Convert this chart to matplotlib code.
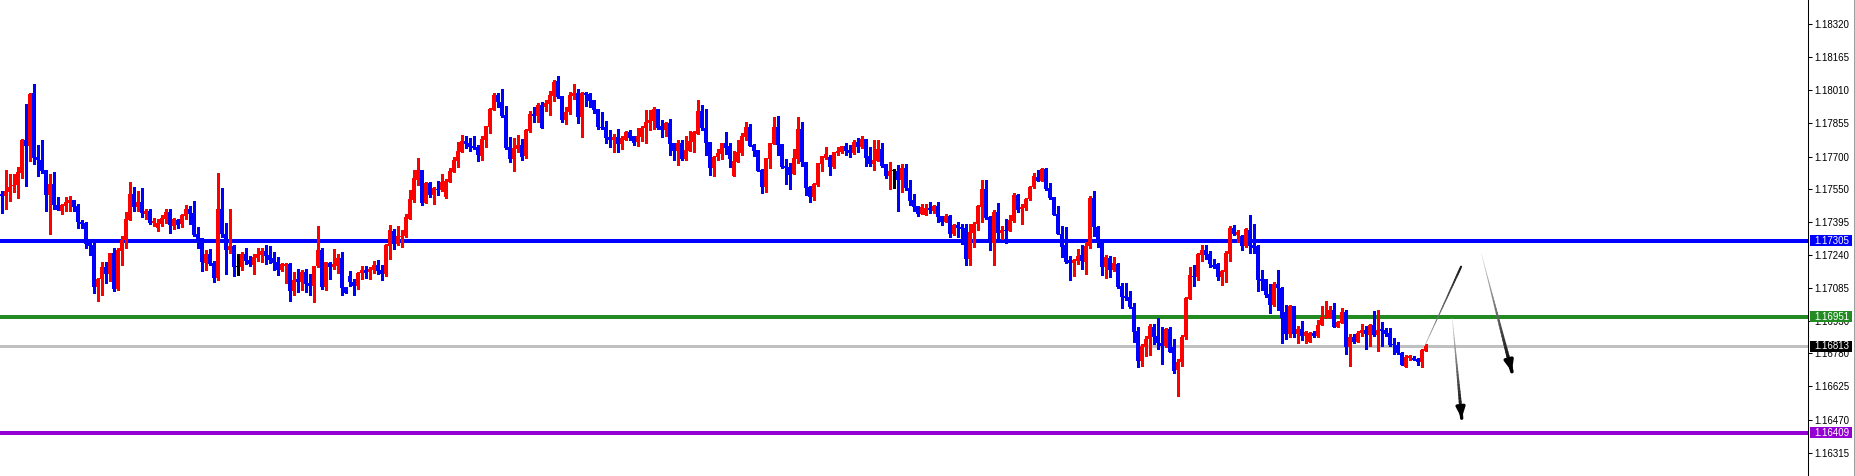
import matplotlib
matplotlib.use("Agg")
import matplotlib.pyplot as plt
import numpy as np
from matplotlib.patches import Rectangle
from matplotlib.collections import LineCollection
from matplotlib.lines import Line2D

plt.rcParams["font.family"] = ["Liberation Sans", "DejaVu Sans"]

# hourly bars, prices x 100000
opens = [
    117525, 117516, 117535, 117561, 117566, 117624, 117775, 117749, 117997, 117697,
    117686, 117636, 117521, 117571, 117471, 117446, 117469, 117483, 117496, 117469,
    117394, 117390, 117296, 117285, 117090, 117125, 117182, 117151, 117248, 117082,
    117259, 117309, 117405, 117524, 117465, 117486, 117432, 117444, 117390, 117366,
    117385, 117408, 117440, 117376, 117401, 117385, 117421, 117454, 117435, 117337,
    117318, 117203, 117243, 117201, 117132, 117454, 117340, 117263, 117281, 117185,
    117184, 117243, 117215, 117195, 117226, 117238, 117259, 117238, 117224, 117206,
    117171, 117189, 117198, 117073, 117125, 117114, 117159, 117107, 117095, 117187,
    117262, 117090, 117201, 117184, 117189, 117224, 117092, 117140, 117114, 117095,
    117153, 117168, 117159, 117171, 117195, 117168, 117151, 117282, 117351, 117293,
    117323, 117327, 117408, 117497, 117592, 117636, 117483, 117575, 117521, 117549,
    117543, 117511, 117580, 117627, 117680, 117720, 117772, 117763, 117749, 117744,
    117703, 117777, 117839, 117919, 117987, 117953, 117895, 117744, 117689, 117735,
    117753, 117702, 117820, 117901, 117891, 117939, 117933, 117944, 117984, 118054,
    117984, 117870, 117906, 117983, 117995, 117884, 117998, 117993, 117965, 117922,
    117837, 117837, 117791, 117775, 117791, 117759, 117778, 117816, 117795, 117769,
    117792, 117833, 117858, 117867, 117922, 117842, 117825, 117856, 117763, 117727,
    117763, 117688, 117727, 117766, 117806, 117912, 117833, 117767, 117647, 117697,
    117713, 117763, 117750, 117610, 117675, 117717, 117792, 117837, 117753, 117730,
    117636, 117557, 117689, 117759, 117837, 117758, 117655, 117650, 117619, 117689,
    117828, 117674, 117558, 117511, 117568, 117666, 117694, 117697, 117650, 117717,
    117720, 117749, 117730, 117716, 117767, 117744, 117780, 117702, 117666, 117680,
    117735, 117663, 117608, 117633, 117633, 117589, 117646, 117553, 117497, 117469,
    117431, 117428, 117461, 117445, 117469, 117422, 117395, 117422, 117339, 117380,
    117370, 117366, 117222, 117344, 117384, 117465, 117548, 117417, 117297, 117440,
    117342, 117356, 117353, 117400, 117520, 117453, 117461, 117501, 117557, 117604,
    117586, 117642, 117553, 117509, 117431, 117338, 117288, 117216, 117203, 117213,
    117239, 117208, 117281, 117506, 117370, 117300, 117185, 117227, 117171, 117199,
    117096, 117047, 117043, 116996, 116885, 116745, 116810, 116848, 116902, 116860,
    116827, 116813, 116894, 116810, 116703, 116740, 116855, 117033, 117142, 117138,
    117241, 117262, 117244, 117192, 117197, 117138, 117161, 117245, 117365, 117333,
    117328, 117281, 117356, 117286, 117281, 117127, 117125, 117057, 117007, 117103,
    117086, 116971, 116872, 117000, 116872, 116893, 116862, 116833, 116877, 116860,
    116910, 116946, 116947, 116982, 116904, 116922, 116971, 116810, 116855, 116832,
    116876, 116888, 116865, 116911, 116865, 116894, 116888, 116874, 116824, 116818,
    116782, 116716, 116759, 116760, 116752, 116740, 116791,
]
highs = [
    117538, 117636, 117617, 117616, 117650, 117783, 117947, 117998, 118039, 117753,
    117777, 117636, 117617, 117627, 117510, 117476, 117510, 117516, 117496, 117479,
    117404, 117393, 117301, 117299, 117132, 117207, 117207, 117251, 117271, 117273,
    117329, 117441, 117580, 117557, 117538, 117554, 117455, 117455, 117412, 117410,
    117426, 117454, 117455, 117412, 117408, 117432, 117471, 117469, 117491, 117371,
    117321, 117265, 117267, 117210, 117622, 117552, 117387, 117454, 117285, 117243,
    117254, 117270, 117235, 117245, 117271, 117270, 117284, 117281, 117252, 117231,
    117203, 117204, 117203, 117159, 117173, 117171, 117173, 117150, 117190, 117376,
    117270, 117209, 117207, 117267, 117243, 117252, 117092, 117165, 117129, 117160,
    117189, 117189, 117182, 117210, 117215, 117192, 117290, 117380, 117363, 117376,
    117355, 117429, 117544, 117635, 117692, 117639, 117582, 117580, 117557, 117585,
    117619, 117594, 117647, 117700, 117766, 117800, 117795, 117786, 117794, 117753,
    117798, 117842, 117928, 117998, 117998, 118014, 117937, 117791, 117786, 117802,
    117780, 117831, 117911, 117933, 117950, 117953, 117964, 118008, 118057, 118076,
    117984, 117930, 118001, 118039, 118015, 118001, 118001, 117998, 117965, 117922,
    117909, 117866, 117823, 117805, 117828, 117795, 117819, 117822, 117795, 117833,
    117845, 117917, 117917, 117933, 117923, 117870, 117861, 117875, 117763, 117775,
    117775, 117794, 117819, 117820, 117964, 117942, 117922, 117769, 117702, 117736,
    117763, 117814, 117761, 117725, 117777, 117808, 117861, 117852, 117758, 117730,
    117641, 117692, 117763, 117886, 117889, 117758, 117688, 117669, 117735, 117884,
    117861, 117674, 117564, 117577, 117670, 117702, 117744, 117706, 117720, 117744,
    117749, 117761, 117752, 117775, 117786, 117794, 117781, 117745, 117777, 117777,
    117761, 117663, 117674, 117642, 117660, 117664, 117665, 117590, 117525, 117469,
    117478, 117478, 117487, 117475, 117487, 117422, 117430, 117426, 117384, 117394,
    117384, 117384, 117384, 117394, 117473, 117590, 117590, 117422, 117450, 117483,
    117375, 117408, 117426, 117529, 117525, 117478, 117506, 117562, 117625, 117637,
    117646, 117646, 117576, 117511, 117469, 117377, 117370, 117234, 117220, 117269,
    117286, 117300, 117515, 117539, 117375, 117302, 117239, 117234, 117231, 117203,
    117108, 117107, 117071, 117015, 116902, 116823, 116862, 116916, 116916, 116944,
    116904, 116898, 116904, 116846, 116751, 116866, 117044, 117185, 117194, 117250,
    117286, 117284, 117258, 117220, 117200, 117170, 117258, 117376, 117381, 117356,
    117331, 117365, 117428, 117384, 117286, 117170, 117128, 117105, 117111, 117169,
    117089, 117005, 117005, 117002, 116907, 116929, 116885, 116880, 116882, 116936,
    117000, 117024, 117000, 117013, 116932, 116991, 116983, 116868, 116871, 116886,
    116919, 116908, 116915, 116977, 116982, 116925, 116899, 116897, 116852, 116833,
    116787, 116773, 116773, 116769, 116760, 116798, 116824,
]
lows = [
    117436, 117455, 117493, 117532, 117507, 117600, 117563, 117680, 117666, 117607,
    117621, 117446, 117338, 117455, 117452, 117432, 117447, 117444, 117446, 117366,
    117366, 117271, 117240, 117064, 117025, 117053, 117109, 117118, 117071, 117075,
    117193, 117273, 117401, 117447, 117447, 117418, 117408, 117385, 117377, 117352,
    117376, 117388, 117343, 117362, 117368, 117369, 117408, 117384, 117329, 117273,
    117165, 117168, 117195, 117114, 117121, 117323, 117151, 117249, 117142, 117148,
    117168, 117196, 117190, 117150, 117213, 117207, 117196, 117204, 117171, 117148,
    117165, 117109, 117026, 117051, 117067, 117076, 117067, 117051, 117022, 117182,
    117082, 117078, 117128, 117173, 117156, 117054, 117064, 117096, 117054, 117082,
    117128, 117134, 117128, 117153, 117151, 117123, 117140, 117220, 117267, 117288,
    117276, 117324, 117408, 117488, 117566, 117474, 117482, 117511, 117479, 117519,
    117538, 117508, 117580, 117627, 117652, 117719, 117742, 117728, 117735, 117680,
    117686, 117745, 117811, 117917, 117933, 117883, 117736, 117675, 117633, 117720,
    117686, 117691, 117816, 117861, 117862, 117833, 117914, 117895, 117962, 117976,
    117862, 117853, 117898, 117970, 117858, 117791, 117937, 117931, 117905, 117831,
    117830, 117764, 117745, 117722, 117722, 117736, 117777, 117777, 117755, 117750,
    117774, 117764, 117822, 117828, 117830, 117792, 117797, 117706, 117686, 117661,
    117685, 117683, 117724, 117720, 117805, 117822, 117708, 117614, 117610, 117683,
    117688, 117714, 117652, 117610, 117675, 117708, 117777, 117747, 117703, 117633,
    117530, 117535, 117647, 117759, 117708, 117647, 117572, 117547, 117619, 117670,
    117656, 117521, 117488, 117497, 117561, 117633, 117689, 117613, 117646, 117708,
    117717, 117705, 117699, 117710, 117722, 117738, 117655, 117655, 117638, 117678,
    117652, 117599, 117547, 117552, 117446, 117533, 117543, 117473, 117445, 117422,
    117430, 117426, 117436, 117436, 117395, 117380, 117392, 117325, 117334, 117323,
    117292, 117194, 117194, 117277, 117356, 117395, 117408, 117264, 117194, 117316,
    117316, 117295, 117351, 117394, 117442, 117386, 117450, 117497, 117554, 117586,
    117584, 117543, 117501, 117425, 117338, 117230, 117203, 117124, 117142, 117199,
    117175, 117152, 117272, 117328, 117278, 117146, 117133, 117138, 117166, 117086,
    116993, 117029, 116991, 116834, 116717, 116721, 116768, 116773, 116824, 116799,
    116731, 116809, 116784, 116689, 116581, 116721, 116848, 117033, 117096, 117124,
    117213, 117222, 117184, 117177, 117122, 117099, 117114, 117213, 117331, 117300,
    117264, 117278, 117248, 117250, 117072, 117074, 117041, 116966, 117003, 116980,
    116829, 116847, 116857, 116857, 116829, 116844, 116830, 116833, 116858, 116858,
    116910, 116946, 116947, 116904, 116901, 116921, 116777, 116721, 116829, 116832,
    116860, 116801, 116815, 116862, 116791, 116815, 116860, 116813, 116777, 116777,
    116723, 116716, 116748, 116748, 116724, 116716, 116791,
]
closes = [
    117516, 117538, 117557, 117566, 117627, 117778, 117749, 117993, 117694, 117686,
    117633, 117521, 117571, 117471, 117452, 117471, 117488, 117499, 117465, 117394,
    117385, 117291, 117282, 117090, 117128, 117182, 117151, 117248, 117082, 117262,
    117309, 117408, 117524, 117465, 117486, 117436, 117444, 117390, 117398, 117390,
    117413, 117440, 117380, 117407, 117382, 117426, 117454, 117432, 117334, 117315,
    117207, 117243, 117198, 117132, 117454, 117340, 117263, 117281, 117184, 117185,
    117246, 117212, 117198, 117229, 117243, 117260, 117237, 117217, 117203, 117170,
    117196, 117196, 117073, 117121, 117114, 117159, 117104, 117095, 117187, 117262,
    117090, 117206, 117184, 117196, 117224, 117086, 117064, 117111, 117095, 117156,
    117168, 117156, 117174, 117195, 117165, 117151, 117287, 117355, 117293, 117327,
    117327, 117416, 117501, 117599, 117636, 117483, 117575, 117521, 117554, 117543,
    117580, 117585, 117632, 117683, 117727, 117772, 117759, 117744, 117738, 117706,
    117783, 117842, 117923, 117987, 117953, 117891, 117739, 117688, 117738, 117753,
    117699, 117825, 117901, 117891, 117940, 117833, 117948, 117987, 118050, 117979,
    117870, 117909, 117987, 117998, 117886, 117995, 117989, 117961, 117917, 117836,
    117833, 117788, 117775, 117789, 117759, 117788, 117816, 117788, 117764, 117794,
    117833, 117862, 117870, 117922, 117834, 117825, 117856, 117759, 117727, 117763,
    117688, 117730, 117772, 117816, 117912, 117833, 117764, 117647, 117697, 117716,
    117763, 117739, 117689, 117678, 117720, 117795, 117837, 117750, 117727, 117633,
    117557, 117692, 117763, 117837, 117755, 117650, 117647, 117614, 117692, 117828,
    117675, 117554, 117511, 117571, 117670, 117702, 117710, 117652, 117720, 117727,
    117749, 117725, 117716, 117767, 117745, 117780, 117692, 117666, 117683, 117735,
    117658, 117608, 117632, 117633, 117591, 117646, 117553, 117494, 117465, 117431,
    117462, 117458, 117450, 117470, 117419, 117395, 117422, 117339, 117380, 117367,
    117362, 117222, 117347, 117384, 117469, 117548, 117412, 117297, 117440, 117344,
    117356, 117353, 117403, 117520, 117450, 117464, 117501, 117557, 117609, 117586,
    117642, 117548, 117506, 117426, 117339, 117278, 117208, 117203, 117216, 117236,
    117213, 117281, 117506, 117370, 117297, 117185, 117231, 117171, 117203, 117091,
    117043, 117040, 116996, 116880, 116745, 116815, 116846, 116907, 116855, 116826,
    116813, 116894, 116787, 116698, 116740, 116855, 117040, 117147, 117138, 117244,
    117264, 117239, 117198, 117184, 117138, 117166, 117250, 117365, 117339, 117348,
    117283, 117361, 117283, 117273, 117122, 117119, 117053, 117007, 117105, 117086,
    116947, 116872, 117000, 116871, 116893, 116860, 116879, 116877, 116862, 116911,
    116950, 116950, 116982, 116904, 116924, 116971, 116810, 116855, 116833, 116877,
    116888, 116871, 116911, 116865, 116891, 116886, 116868, 116818, 116818, 116779,
    116724, 116762, 116765, 116749, 116740, 116793, 116813,
]

# horizontal levels drawn on the chart
level_prices = [1.17305, 1.16951, 1.16813, 1.16409]
level_labels = ["1.17305", "1.16951", "1.16813", "1.16409"]
level_line_colors = ["#0000ff", "#228b22", "#c0c0c0", "#9400d3"]
level_box_colors = ["#0000ff", "#228b22", "#000000", "#9400d3"]
level_widths = [1.5, 1.5, 0.75, 1.5]

tick_prices = [1.18320, 1.18165, 1.18010, 1.17855, 1.17700, 1.17550, 1.17395,
               1.17240, 1.17085, 1.16930, 1.16780, 1.16625, 1.16470, 1.16315]

# hand drawn projection strokes: (bar index, price)
stroke_up = [(355.9, 1.16818), (364.9, 1.17185)]
arrow_right = [(370.0, 1.17244), (377.6, 1.16694)]
arrow_left = [(362.7, 1.16943), (365.05, 1.16476)]

o = np.array(opens) / 1e5
h = np.array(highs) / 1e5
l = np.array(lows) / 1e5
c = np.array(closes) / 1e5
x = np.arange(len(o))

W, H = 1855, 476
AX_W = 1808
fig = plt.figure(figsize=(W / 100, H / 100), dpi=100)
fig.patch.set_facecolor("white")
ax = fig.add_axes([0, 0, AX_W / W, 1])

colors = np.where(c > o, "#ff0000", np.where(c < o, "#0000ff", "#000000"))

# levels under the candles
for p, col, lw in zip(level_prices, level_line_colors, level_widths):
    ax.axhline(p, color=col, lw=lw, zorder=1, antialiased=False)

# wicks and bodies
ax.vlines(x, l, h, colors=colors, linewidth=0.75, zorder=3, antialiased=False)
body_low = np.minimum(o, c)
body_h = np.maximum(np.abs(c - o), 0.00002)
ax.bar(x, body_h, 0.75, bottom=body_low, color=colors, linewidth=0,
       zorder=4, antialiased=False)


def stroke(pts, w0, w1, g0, g1, head):
    (x0, y0), (x1, y1) = pts
    n = 30
    t = np.linspace(0, 1, n + 1)
    xs = x0 + (x1 - x0) * t
    ys = y0 + (y1 - y0) * t
    segs = [[(xs[k], ys[k]), (xs[k + 1], ys[k + 1])] for k in range(n)]
    lws = np.linspace(w0, w1, n)
    grays = np.linspace(g0, g1, n)
    ax.add_collection(LineCollection(segs, linewidths=lws,
                                     colors=[(g, g, g) for g in grays],
                                     capstyle="round", zorder=6))
    if head:
        ax.annotate("", xy=(x1, y1), xytext=(xs[-3], ys[-3]),
                    arrowprops=dict(arrowstyle="-|>,head_length=0.6,head_width=0.25",
                                    color="black", lw=w1, shrinkA=0, shrinkB=0),
                    zorder=7)


stroke(stroke_up, 0.4, 1.5, 0.65, 0.1, False)
stroke(arrow_right, 0.3, 2.6, 0.85, 0.0, True)
stroke(arrow_left, 0.3, 2.4, 0.85, 0.0, True)

ax.set_xlim(-0.375, (AX_W - 1.5) / 4)
ax.set_ylim(1.16206, 1.18432)

for side in ["top", "left", "bottom"]:
    ax.spines[side].set_visible(False)
ax.spines["right"].set_linewidth(0.75)
ax.spines["right"].set_color("black")
ax.set_xticks([])
ax.yaxis.tick_right()
ax.set_yticks(tick_prices)
ax.set_yticklabels(["%.5f" % p for p in tick_prices])
ax.tick_params(axis="y", direction="out", length=3, width=0.75, pad=1.5,
               labelsize=7, colors="black")

# price boxes on the right scale
tr = ax.get_yaxis_transform()
box_h = 11 / (H / (1.18432 - 1.16206))
for p, lab, col in zip(level_prices, level_labels, level_box_colors):
    ax.add_patch(Rectangle((1810 / AX_W, p - box_h / 2), 42 / AX_W, box_h,
                           transform=tr, facecolor=col, edgecolor="none",
                           clip_on=False, zorder=10))
    ax.text(1814 / AX_W, p, lab, transform=tr, color="white", fontsize=7,
            va="center", ha="left", clip_on=False, zorder=11)

fig.add_artist(Line2D([1853.5 / W] * 2, [0, 1], transform=fig.transFigure,
                      color="#a0a0a0", lw=0.75))

fig.savefig("out.png", dpi=100, facecolor="white")
